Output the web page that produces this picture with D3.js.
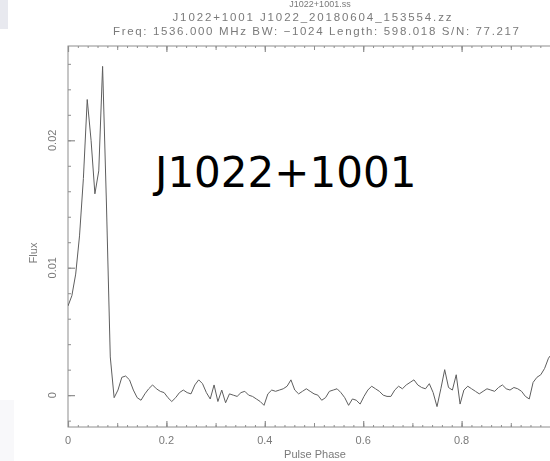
<!DOCTYPE html>
<html>
<head>
<meta charset="utf-8">
<script src="https://cdn.jsdelivr.net/npm/d3@7"></script>
<style>
  html, body { margin: 0; padding: 0; background: #ffffff; }
  svg { display: block; }
</style>
</head>
<body>
<svg id="chart" width="550" height="461"></svg>
<script>
// Integrated pulse profile of J1022+1001, 128 phase bins over one rotation.
const pulsarName = "J1022+1001";
const headerLines = [
  "J1022+1001 J1022_20180604_153554.zz",
  "Freq: 1536.000 MHz BW: \u22121024 Length: 598.018 S/N: 77.217"
];
const xLabel = "Pulse Phase";
const yLabel = "Flux";
const xTickValues = [0, 0.2, 0.4, 0.6, 0.8];
const xTickLabels = ["0", "0.2", "0.4", "0.6", "0.8"];
const yTickValues = [0, 0.01, 0.02];
const yTickLabels = ["0", "0.01", "0.02"];
const phaseDomain = [0, 1];
const fluxDomain = [-0.0025, 0.0274];

const flux = [
  0.0070, 0.0078, 0.0095, 0.0125, 0.0170, 0.0232, 0.0200, 0.0158,
  0.0176, 0.0258, 0.0150, 0.0030, -0.0002, 0.0004, 0.0014, 0.0015,
  0.0012, 0.0004, -0.0002, -0.0004, 0.0001, 0.0005, 0.0008, 0.0005,
  0.0003, 0.0002, -0.0002, -0.0005, -0.0002, 0.0002, 0.0004, 0.0002,
  0.0001, 0.0008, 0.0012, 0.0009, 0.0002, -0.0003, 0.0008, -0.0005,
  0.0004, -0.0006, 0.0001, 0.0000, -0.0001, 0.0002, 0.0003, 0.0000,
  -0.0001, -0.0003, -0.0005, -0.0008, 0.0001, 0.0004, 0.0003, 0.0004,
  0.0005, 0.0007, 0.0012, 0.0004, 0.0001, 0.0003, 0.0005, 0.0003,
  0.0001, 0.0000, -0.0004, -0.0002, 0.0003, 0.0004, 0.0005, 0.0002,
  -0.0002, -0.0008, -0.0003, -0.0004, -0.0007, -0.0001, 0.0004, 0.0007,
  0.0005, 0.0003, 0.0000, -0.0001, -0.0001, 0.0004, 0.0007, 0.0005,
  0.0008, 0.0010, 0.0012, 0.0008, 0.0006, 0.0005, 0.0009, 0.0002,
  -0.0009, 0.0005, 0.0020, 0.0006, 0.0004, 0.0016, -0.0007, 0.0004,
  0.0007, 0.0005, 0.0003, 0.0001, 0.0003, 0.0005, 0.0004, 0.0003,
  0.0006, 0.0008, 0.0005, 0.0004, 0.0006, 0.0005, 0.0003, -0.0001,
  -0.0003, 0.0010, 0.0014, 0.0016, 0.0021, 0.0029, 0.0033, 0.0036
];

const svg = d3.select("#chart");
const plot = { left: 68, right: 560, top: 46, bottom: 427 };

const frameColor = "#8e8e8e";
const inkColor = "#7a7a7a";
const traceColor = "#5e5e5e";
const pgFont = "'Liberation Sans', Arial, sans-serif";

// Soft rendering of the plot device output.
const defs = svg.append("defs");
defs.append("filter").attr("id", "soft")
  .attr("x", "-5%").attr("y", "-5%").attr("width", "110%").attr("height", "110%")
  .append("feGaussianBlur").attr("stdDeviation", 0.45);

// Window decorations at the left edge.
svg.append("rect").attr("x", 0).attr("y", 0).attr("width", 8).attr("height", 29)
  .attr("fill", "#e8e9ef");
svg.append("rect").attr("x", 0).attr("y", 400).attr("width", 14).attr("height", 61)
  .attr("fill", "#f8f8fa");

const x = d3.scaleLinear().domain(phaseDomain).range([plot.left, plot.right]);
const y = d3.scaleLinear().domain(fluxDomain).range([plot.bottom, plot.top]);

const g = svg.append("g").attr("filter", "url(#soft)");

// Header text block above the frame.
g.append("text")
  .attr("x", 320).attr("y", 7)
  .attr("text-anchor", "middle")
  .attr("font-family", pgFont).attr("font-size", 9)
  .attr("fill", inkColor)
  .text(pulsarName + ".ss");
const headerY = [21, 35];
const headerW = [279, 406];
const headerX = [312, 316];
headerLines.forEach((t, i) => {
  g.append("text")
    .attr("x", headerX[i] - headerW[i] / 2).attr("y", headerY[i])
    .attr("font-family", pgFont).attr("font-size", 11.5)
    .attr("fill", inkColor)
    .attr("textLength", headerW[i]).attr("lengthAdjust", "spacing")
    .text(t);
});

// Frame.
const clipId = "plotclip";
defs.append("clipPath").attr("id", clipId).append("rect")
  .attr("x", plot.left).attr("y", plot.top)
  .attr("width", plot.right - plot.left).attr("height", plot.bottom - plot.top);

g.append("rect")
  .attr("x", plot.left).attr("y", plot.top)
  .attr("width", plot.right - plot.left).attr("height", plot.bottom - plot.top)
  .attr("fill", "none").attr("stroke", frameColor).attr("stroke-width", 1);

// Inward ticks on bottom and top edges.
function phaseTicks(sel, orient) {
  const minor = d3.range(0, 1.0001, 0.02);
  const mid = d3.range(0, 1.0001, 0.1);
  const major = d3.range(0, 1.0001, 0.2);
  const mk = (vals, len, w) => {
    const axis = (orient === "bottom" ? d3.axisBottom(x) : d3.axisTop(x))
      .tickValues(vals).tickSize(-len).tickFormat("");
    const a = sel.append("g")
      .attr("transform", `translate(0,${orient === "bottom" ? plot.bottom : plot.top})`)
      .call(axis);
    a.select(".domain").remove();
    a.selectAll("line").attr("stroke", frameColor).attr("stroke-width", w);
  };
  mk(minor, 2, 1);
  mk(mid, 4, 1);
  mk(major, 6, 1.2);
}
phaseTicks(g, "bottom");
phaseTicks(g, "top");

// Inward ticks on the flux axis.
function fluxTicks(vals, len, w) {
  const a = g.append("g").attr("transform", `translate(${plot.left},0)`)
    .call(d3.axisLeft(y).tickValues(vals).tickSize(-len).tickFormat(""));
  a.select(".domain").remove();
  a.selectAll("line").attr("stroke", frameColor).attr("stroke-width", w);
}
fluxTicks(d3.range(-0.002, 0.0271, 0.002), 3, 1);
fluxTicks(yTickValues, 7, 1.2);

// Tick labels.
g.selectAll(".xlab").data(xTickValues).join("text")
  .attr("class", "xlab")
  .attr("x", d => x(d)).attr("y", 444)
  .attr("text-anchor", "middle")
  .attr("font-family", pgFont).attr("font-size", 11)
  .attr("fill", inkColor)
  .text((d, i) => xTickLabels[i]);

g.selectAll(".ylab").data(yTickValues).join("text")
  .attr("class", "ylab")
  .attr("transform", d => `translate(56,${y(d)}) rotate(-90)`)
  .attr("text-anchor", "middle")
  .attr("font-family", pgFont).attr("font-size", 11)
  .attr("fill", inkColor)
  .text((d, i) => yTickLabels[i]);

// Axis titles.
g.append("text")
  .attr("x", 315).attr("y", 458)
  .attr("text-anchor", "middle")
  .attr("font-family", pgFont).attr("font-size", 11)
  .attr("fill", inkColor)
  .text(xLabel);
g.append("text")
  .attr("transform", "translate(37,253) rotate(-90)")
  .attr("text-anchor", "middle")
  .attr("font-family", pgFont).attr("font-size", 11)
  .attr("fill", inkColor)
  .text(yLabel);

// Profile trace.
const line = d3.line()
  .x((d, i) => x(i / flux.length))
  .y(d => y(d));
g.append("path")
  .datum(flux)
  .attr("clip-path", `url(#${clipId})`)
  .attr("d", line)
  .attr("fill", "none")
  .attr("stroke", traceColor)
  .attr("stroke-width", 1);

// Source name annotation.
svg.append("text")
  .attr("x", 155).attr("y", 187)
  .attr("font-family", "'DejaVu Sans', Verdana, sans-serif")
  .attr("font-size", 42)
  .attr("fill", "#000000")
  .text(pulsarName);
</script>
</body>
</html>
